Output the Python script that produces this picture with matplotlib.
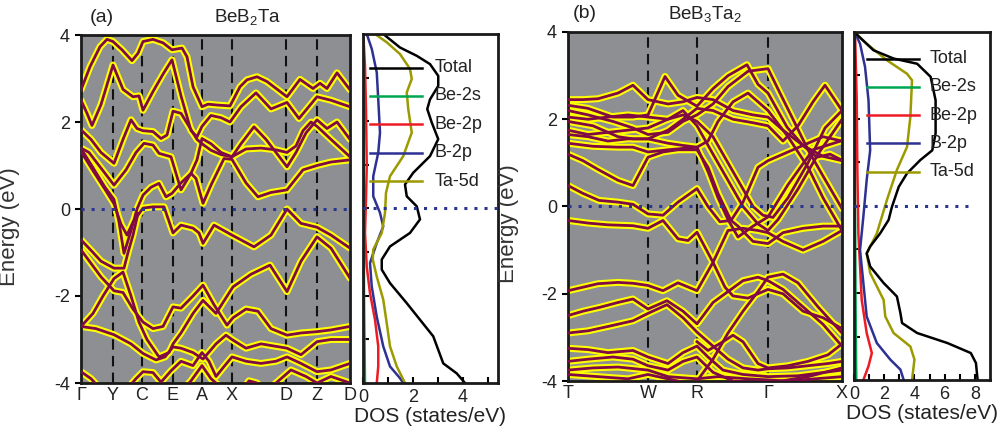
import matplotlib
matplotlib.use("Agg")
import matplotlib.pyplot as plt

plt.rcParams['font.family'] = ['Liberation Sans', 'DejaVu Sans']
plt.rcParams['mathtext.default'] = 'regular'
plt.rcParams['axes.unicode_minus'] = False

# ---------------- band structure (a) BeB2Ta ----------------
kpts_a = [0, 32, 61, 92, 121, 151, 205, 236, 269]
klabels_a = ['Γ', 'Y', 'C', 'E', 'A', 'X', 'D', 'Z', 'D']

bands_a = [
    [(0, 2.74), (9, 3.27), (19, 3.73), (26, 3.9), (32, 3.85), (41, 3.66), (51, 3.41), (57, 3.58), (62, 3.85),
     (72, 3.9), (82, 3.82), (91, 3.66), (101, 3.7), (106, 3.5), (112, 2.81), (121, 2.35), (127, 2.41), (136, 2.39),
     (149, 2.37), (159, 2.81), (166, 2.97), (176, 3.04), (186, 2.93), (206, 2.58), (219, 2.98), (232, 2.77),
     (239, 2.89), (246, 2.77), (256, 3.13), (269, 2.74)],
    [(0, 2.5), (6, 2.2), (11, 1.92), (20, 2.4), (32, 3.31), (42, 2.75), (52, 2.58), (58, 2.6), (62, 2.27),
     (72, 2.7), (82, 3.1), (91, 3.43), (100, 2.6), (110, 1.8), (116, 1.66), (121, 1.9), (130, 2.15), (140, 2.1),
     (149, 2.0), (160, 2.35), (175, 2.67), (190, 2.3), (206, 2.45), (218, 2.08), (236, 2.58), (250, 2.5),
     (269, 2.35)],
    [(0, 1.82), (10, 1.6), (20, 1.3), (33, 1.05), (42, 1.6), (50, 2.05), (56, 1.85), (62, 1.8), (72, 1.78),
     (80, 1.62), (86, 1.7), (92, 2.25), (100, 2.2), (108, 1.9), (116, 1.6), (121, 1.5), (130, 1.35), (140, 1.25),
     (151, 1.2), (160, 1.5), (173, 1.89), (185, 1.6), (195, 1.3), (206, 0.97), (215, 1.3), (225, 1.75),
     (236, 2.05), (246, 1.85), (256, 2.0), (269, 1.6)],
    [(0, 1.39), (12, 0.95), (24, 0.5), (33, 0.22), (38, -0.3), (43, -1.02), (50, -0.5), (56, 0.0), (62, 0.32),
     (70, 0.5), (78, 0.59), (85, 0.28), (91, 0.36), (100, 0.6), (110, 0.82), (116, 1.13), (121, 1.62),
     (130, 1.5), (140, 1.3), (151, 1.2), (165, 1.38), (180, 1.4), (195, 1.36), (206, 1.3), (215, 1.45),
     (222, 1.8), (230, 2.0), (236, 1.9), (250, 1.6), (269, 1.2)],
    [(0, 1.32), (12, 0.88), (24, 0.45), (33, 0.12), (40, -0.35), (46, -0.6), (52, -0.3), (62, 0.02), (72, 0.05),
     (83, 0.05), (92, -0.55), (100, -0.37), (112, -0.44), (118, -0.55), (122, -0.79), (133, -0.37),
     (151, -0.6), (173, -0.87), (190, -0.6), (206, 0.0), (220, -0.33), (236, -0.42), (250, -0.6), (269, -0.9)],
    [(0, 1.4), (8, 1.3), (18, 1.0), (33, 0.55), (45, 0.9), (55, 1.3), (63, 1.51), (72, 1.47), (78, 1.28),
     (90, 1.2), (100, 0.44), (110, 0.82), (115, 0.7), (122, 0.13), (130, 0.55), (143, 1.16), (151, 1.14),
     (165, 0.6), (177, 0.28), (190, 0.38), (206, 0.44), (222, 0.9), (236, 1.0), (250, 1.08), (269, 1.13)],
    [(0, -0.71), (10, -0.95), (20, -1.2), (33, -1.36), (43, -1.36), (47, -1.0), (52, -0.6), (57, -0.1)],
    [(0, -0.94), (10, -1.25), (20, -1.56), (33, -1.88), (42, -1.92), (52, -2.3), (62, -2.6), (72, -2.75),
     (82, -2.7), (92, -2.25), (100, -2.28), (112, -2.0), (122, -1.75), (133, -2.2), (146, -2.67), (152, -2.5),
     (165, -2.3), (177, -2.35), (190, -2.75), (206, -2.9), (220, -2.85), (236, -2.82), (250, -2.78), (269, -2.7)],
    [(0, -2.7), (12, -2.4), (22, -2.0), (33, -1.6), (42, -1.45), (50, -2.0), (58, -2.6), (66, -3.0), (78, -3.4),
     (88, -3.3), (92, -3.1), (100, -2.85), (112, -2.4), (122, -2.1), (135, -2.4), (152, -1.79), (170, -1.5),
     (189, -1.29), (206, -1.9), (220, -1.2), (236, -0.64), (250, -0.9), (269, -1.59)],
    [(0, -2.7), (15, -2.75), (33, -2.89), (50, -3.1), (62, -3.32), (75, -3.47), (84, -3.4), (92, -3.17),
     (100, -3.2), (112, -3.3), (122, -3.45), (135, -3.1), (145, -2.9), (151, -3.0), (165, -3.2), (180, -3.1),
     (206, -3.2), (220, -3.35), (236, -3.05), (250, -3.0), (269, -3.0)],
    [(0, -3.74), (10, -3.9), (20, -4.15), (40, -4.3), (55, -3.9), (62, -3.74), (72, -3.76), (80, -3.98),
     (90, -3.72), (100, -3.5), (112, -3.6), (121, -3.3), (128, -3.5), (135, -3.85), (142, -3.65), (151, -3.4),
     (165, -3.5), (180, -3.55), (195, -3.5), (206, -3.4), (220, -3.55), (236, -3.74), (250, -3.7), (269, -3.55)],
    [(100, -4.2), (110, -3.95), (121, -3.6), (130, -3.9), (140, -4.1), (160, -4.2), (168, -3.95), (176, -4.0),
     (185, -4.2), (200, -3.9), (210, -3.7), (225, -3.85), (236, -4.0), (250, -3.85), (269, -4.0)],
]

# ---------------- band structure (b) BeB3Ta2 ----------------
kpts_b = [0, 80, 129, 200, 274]
klabels_b = ['T', 'W', 'R', 'Γ', 'X']

bands_b = [
    [(0, 2.45), (15, 2.45), (30, 2.47), (50, 2.6), (65, 2.78), (80, 2.45), (100, 2.35), (115, 2.4), (129, 2.5),
     (145, 2.45), (165, 2.2), (185, 2.1), (200, 2.05), (215, 1.75), (235, 1.4), (255, 1.15), (274, 1.05)],
    [(0, 2.32), (20, 2.25), (45, 2.05), (65, 2.05), (80, 2.1), (97, 2.98), (110, 2.55), (129, 2.3), (145, 2.7),
     (160, 3.0), (179, 3.25), (190, 2.8), (200, 2.6), (219, 1.82), (235, 1.4), (249, 1.13), (262, 1.2),
     (274, 1.06)],
    [(0, 2.2), (20, 2.1), (45, 1.95), (65, 1.8), (80, 1.65), (100, 1.7), (115, 1.95), (129, 2.1), (145, 2.35),
     (160, 2.75), (180, 3.1), (200, 3.16), (212, 2.6), (225, 2.0), (240, 1.3), (255, 0.7), (274, -0.05)],
    [(0, 2.05), (20, 2.0), (40, 2.05), (60, 2.1), (80, 2.05), (100, 2.0), (115, 2.1), (129, 1.95), (145, 1.6),
     (160, 1.0), (175, 0.4), (185, 0.0), (195, -0.2), (205, -0.25), (220, 0.2), (240, 1.0), (257, 1.8),
     (274, 2.2)],
    [(0, 1.95), (25, 1.85), (50, 1.6), (65, 1.55), (80, 1.55), (100, 1.75), (115, 2.0), (129, 2.25), (145, 2.2),
     (165, 2.0), (185, 1.92), (200, 1.85), (215, 1.5), (230, 1.85), (245, 2.4), (257, 2.78), (274, 2.2)],
    [(0, 1.65), (20, 1.6), (40, 1.5), (60, 1.55), (80, 1.55), (100, 1.45), (115, 1.4), (129, 1.36), (140, 0.8),
     (150, 0.2), (160, -0.3), (170, -0.7), (185, -0.45), (200, -0.24), (220, 0.5), (245, 1.3), (274, 1.51)],
    [(0, 1.45), (25, 1.38), (50, 1.36), (65, 1.36), (80, 1.25), (100, 1.3), (129, 1.36), (140, 1.5), (150, 1.95),
     (165, 2.4), (180, 2.6), (200, 2.2), (220, 1.6), (240, 0.9), (255, 0.2), (274, -0.55)],
    [(0, 1.2), (15, 1.05), (30, 0.85), (50, 0.6), (65, 0.48), (80, 1.13), (95, 1.25), (110, 1.3), (129, 1.3),
     (140, 0.9), (150, 0.3), (163, -0.32), (175, 0.1), (190, 0.9), (200, 1.05), (215, 1.2), (235, 1.4),
     (255, 1.6), (274, 1.5)],
    [(0, 1.75), (20, 1.65), (40, 1.7), (60, 1.75), (80, 1.8), (100, 2.0), (115, 2.2), (129, 1.85), (145, 1.2),
     (160, 0.6), (175, 0.0), (190, -0.4), (200, -0.55), (210, -0.3), (230, 0.4), (250, 1.2), (274, 2.0)],
    [(0, 0.48), (15, 0.3), (31, 0.14), (50, 0.1), (65, 0.05), (80, -0.17), (95, -0.2), (110, 0.1), (129, 0.41),
     (140, 0.0), (152, -0.35), (163, -0.32), (170, -0.45), (185, -0.8), (200, -0.85), (215, -0.6), (235, -0.5),
     (255, -0.45), (274, -0.45)],
    [(0, -0.32), (20, -0.38), (40, -0.42), (65, -0.44), (80, -0.5), (95, -0.32), (110, -0.74), (120, -0.78),
     (129, -0.59), (145, -1.28), (157, -1.85), (165, -2.05), (180, -2.1), (195, -1.95), (200, -1.9),
     (215, -2.0), (235, -2.4), (255, -2.55), (274, -2.8)],
    [(0, -1.93), (15, -1.85), (30, -1.77), (50, -1.74), (65, -1.76), (80, -1.81), (95, -1.93), (110, -1.75),
     (129, -1.93), (145, -1.28), (160, -0.55), (175, -0.5), (190, -0.55), (200, -0.6), (215, -0.8),
     (235, -1.0), (255, -0.8), (274, -0.55)],
    [(0, -2.5), (15, -2.4), (32, -2.31), (50, -2.2), (65, -2.12), (80, -2.35), (99, -2.16), (115, -2.4),
     (129, -2.69), (145, -2.2), (160, -1.95), (175, -1.7), (190, -1.62), (200, -1.7), (215, -1.9), (235, -2.3),
     (255, -2.7), (274, -3.2)],
    [(129, -4.0), (145, -3.5), (160, -2.9), (175, -2.4), (190, -1.95), (200, -1.62), (215, -1.55), (230, -1.75),
     (250, -2.3), (274, -2.9)],
    [(129, -3.1), (140, -3.3), (155, -3.1), (165, -2.95), (175, -3.1), (190, -3.6), (200, -3.7), (220, -3.65),
     (240, -3.55), (260, -3.4), (274, -3.15)],
    [(0, -2.9), (20, -2.85), (40, -2.75), (65, -2.62), (80, -2.45), (99, -2.25), (115, -2.55), (129, -2.88),
     (145, -3.2), (160, -3.5), (175, -3.7), (190, -3.75), (200, -3.72), (220, -3.7), (240, -3.65), (260, -3.6),
     (274, -3.55)],
    [(0, -3.25), (20, -3.28), (40, -3.35), (65, -3.3), (80, -3.45), (100, -3.6), (115, -3.35), (129, -3.2),
     (140, -3.45), (155, -3.75), (175, -3.85), (200, -3.9), (230, -3.88), (274, -3.75)],
    [(0, -3.55), (20, -3.5), (45, -3.45), (65, -3.5), (80, -3.65), (100, -3.75), (115, -3.55), (129, -3.45),
     (145, -3.8), (165, -4.0), (200, -4.05), (240, -3.9), (274, -3.7)],
    [(0, -3.75), (25, -3.7), (50, -3.68), (80, -3.75), (100, -3.9), (129, -3.95), (150, -3.9), (180, -3.95),
     (220, -4.0), (274, -3.9)],
    [(0, -3.85), (30, -3.9), (60, -3.95), (80, -3.85), (100, -3.95), (129, -4.1)],
]

# ---------------- DOS (a) ----------------
dos_a = {
    'Total': ([4.0, 3.69, 3.5, 3.31, 3.04, 2.81, 2.5, 2.28, 1.97, 1.59, 1.2, 0.82, 0.55, 0.28, 0.05, -0.25, -0.56,
               -0.87, -1.17, -1.4, -1.71, -2.17, -2.55, -2.93, -3.55, -3.78, -4.0],
              [0.81, 1.48, 2.15, 2.68, 3.01, 3.01, 2.68, 2.57, 2.75, 3.01, 2.68, 2.01, 1.68, 1.75, 2.15, 2.28, 1.88,
               1.08, 0.75, 0.75, 1.08, 1.75, 2.28, 2.81, 3.21, 3.75, 4.08]),
    'Be-2s': ([4.0, 2.0, 0.0, -2.0, -3.0, -4.0], [0.02, 0.03, 0.03, 0.04, 0.06, 0.08]),
    'Be-2p': ([4.0, 3.27, 2.28, 0.97, 0.21, -0.56, -1.33, -1.94, -2.55, -3.16, -3.62, -4.0],
              [0.01, 0.08, 0.12, 0.15, 0.12, 0.08, 0.15, 0.28, 0.48, 0.61, 0.61, 0.55]),
    'B-2p': ([4.0, 3.66, 3.12, 2.5, 1.74, 1.28, 0.74, 0.28, -0.1, -0.41, -0.79, -1.25, -1.79, -2.48, -3.16, -3.62,
              -3.89, -4.0],
             [0.15, 0.35, 0.55, 0.61, 0.68, 0.61, 0.41, 0.41, 0.68, 0.81, 0.55, 0.28, 0.35, 0.55, 0.81, 1.08, 1.48,
              1.61]),
    'Ta-5d': ([4.0, 3.81, 3.54, 3.2, 2.97, 2.66, 2.28, 1.74, 1.2, 0.74, 0.36, -0.1, -0.56, -0.94, -1.17, -1.56,
               -2.09, -2.63, -3.16, -3.62, -4.0],
              [0.48, 0.95, 1.48, 1.88, 1.95, 1.75, 1.81, 1.95, 1.61, 1.08, 0.92, 0.88, 0.75, 0.41, 0.39, 0.55, 0.81,
               0.95, 1.08, 1.35, 1.68]),
}

# ---------------- DOS (b) ----------------
dos_b = {
    'Total': ([3.98, 3.58, 3.39, 3.27, 2.97, 2.43, 1.67, 1.28, 1.06, 0.75, 0.44, -0.02, -0.32, -0.63, -0.93, -1.09,
               -1.39, -1.77, -2.08, -2.46, -2.69, -2.92, -3.15, -3.38, -3.61, -4.0],
              [0.07, 1.29, 2.62, 4.18, 5.07, 5.4, 5.4, 5.18, 4.4, 3.51, 2.96, 2.51, 2.29, 1.73, 1.07, 0.84, 1.07,
               1.96, 2.84, 3.07, 3.18, 4.18, 6.18, 7.73, 8.07, 8.18]),
    'Be-2s': ([3.98, 2.0, 0.0, -2.0, -3.0, -4.0], [0.03, 0.05, 0.07, 0.1, 0.12, 0.15]),
    'Be-2p': ([3.98, 2.43, 0.9, -0.63, -2.16, -2.92, -3.38, -3.68, -4.0],
              [0.07, 0.18, 0.22, 0.29, 0.51, 0.84, 1.18, 0.96, 0.62]),
    'B-2p': ([3.98, 3.73, 3.2, 2.43, 1.28, 0.6, -0.24, -1.01, -1.77, -2.54, -3.15, -3.53, -3.76, -4.0],
             [0.07, 0.4, 0.73, 0.96, 1.07, 0.84, 0.62, 0.4, 0.62, 0.84, 1.51, 2.4, 3.07, 3.29]),
    'Ta-5d': ([3.98, 3.73, 3.35, 3.04, 2.89, 2.05, 1.36, 0.83, 0.14, -0.63, -1.09, -1.54, -2.16, -2.54, -2.92,
               -3.23, -3.53, -4.0],
              [0.07, 0.84, 2.18, 3.51, 3.84, 3.73, 3.51, 2.84, 2.18, 1.51, 0.84, 1.07, 1.96, 2.07, 2.62, 3.73, 4.0,
               3.84]),
}

dos_colors = {'Total': 'black', 'Be-2s': '#00a651', 'Be-2p': '#ed1c24', 'B-2p': '#2e3192', 'Ta-5d': '#9c9a00'}
legend_order = ['Total', 'Be-2s', 'Be-2p', 'B-2p', 'Ta-5d']
draw_order = ['Be-2s', 'Be-2p', 'B-2p', 'Ta-5d', 'Total']

GRAY = '#8e8f92'
PURPLE = '#7f0a45'
YELLOW = '#ffff00'
FERMI = '#2a3590'

fig = plt.figure(figsize=(10.07, 4.44), dpi=100)
W, H = 1007, 444


def box(x0, y0, x1, y1):
    return [x0 / W, 1 - y1 / H, (x1 - x0) / W, (y1 - y0) / H]


def band_panel(ax, bands, kpts, klabels):
    ax.set_facecolor(GRAY)
    for b in bands:
        ks = [p[0] for p in b]
        es = [p[1] for p in b]
        ax.plot(ks, es, color=YELLOW, lw=5.0, solid_capstyle='round', solid_joinstyle='round', zorder=2)
    for b in bands:
        ks = [p[0] for p in b]
        es = [p[1] for p in b]
        ax.plot(ks, es, color=PURPLE, lw=2.0, solid_joinstyle='round', zorder=3)
    for k in kpts[1:-1]:
        ax.axvline(k, color='#111111', lw=1.5, ls=(0, (5, 3)), zorder=1)
    ax.axhline(0, color=FERMI, lw=2.2, ls=(0, (1, 2.3)), zorder=4)
    ax.set_xlim(kpts[0], kpts[-1])
    ax.set_ylim(-4, 4)
    ax.set_xticks(kpts)
    ax.set_xticklabels(klabels)
    ax.set_yticks([-4, -2, 0, 2, 4])
    ax.tick_params(axis='x', length=0, labelsize=13, pad=3, labelcolor='#222222')
    ax.tick_params(axis='y', direction='out', length=4, width=1.5, labelsize=13, pad=4, labelcolor='#222222')
    for s in ax.spines.values():
        s.set_linewidth(2)
        s.set_color('#1a1a1a')
    ax.set_ylabel('Energy (eV)', fontsize=16, color='#333333')


def dos_panel(ax, dos, xmax, xlabels, leg_x0, leg_x1, leg_tx, leg_y, fermi_x):
    for name in draw_order:
        e, v = dos[name]
        ax.plot(v, e, color=dos_colors[name], lw=1.8, zorder=2)
    for name, y in zip(legend_order, leg_y):
        ax.plot([leg_x0, leg_x1], [y, y], color=dos_colors[name], lw=1.8, zorder=3)
        ax.text(leg_tx, y, name, fontsize=13, va='center', ha='left', color='#222222')
    ax.plot([0, fermi_x], [0, 0], color=FERMI, lw=2.2, ls=(0, (1, 2.3)), zorder=4)
    ax.set_xlim(0, xmax)
    ax.set_ylim(-4, 4)
    ax.set_yticks(range(-3, 4))
    ax.set_yticklabels([])
    ax.set_xticks(range(0, len(xlabels)))
    ax.set_xticklabels(xlabels)
    ax.tick_params(direction='in', length=4, width=1.5, labelsize=13, pad=4, labelcolor='#222222')
    for s in ax.spines.values():
        s.set_linewidth(2)
        s.set_color('#1a1a1a')
    ax.set_xlabel('DOS (states/eV)', fontsize=15, labelpad=1, color='#222222')


ax1 = fig.add_axes(box(81, 35, 350, 383))
band_panel(ax1, bands_a, kpts_a, klabels_a)
ax1.yaxis.set_label_coords(-0.225, 0.45)

ax2 = fig.add_axes(box(363, 34, 498, 383))
dos_panel(ax2, dos_a, 5.4, ['0', '', '2', '', '4', ''], 0.28, 2.35, 2.85,
          [3.23, 2.58, 1.93, 1.28, 0.63], 5.4)

ax3 = fig.add_axes(box(568, 32, 842, 381))
band_panel(ax3, bands_b, kpts_b, klabels_b)
ax3.yaxis.set_label_coords(-0.18, 0.45)

ax4 = fig.add_axes(box(854, 32, 990, 380))
dos_panel(ax4, dos_b, 9.0, ['0', '', '2', '', '4', '', '6', '', '8'], 0.84, 4.29, 5.0,
          [3.39, 2.74, 2.09, 1.44, 0.79], 7.8)

fig.text(90 / W, 1 - 17 / H, '(a)', fontsize=14, va='center', ha='left', color='#222222')
fig.text(248 / W, 1 - 17 / H, 'BeB$_2$Ta', fontsize=13.5, va='center', ha='center', color='#222222')
fig.text(573 / W, 1 - 14 / H, '(b)', fontsize=14, va='center', ha='left', color='#222222')
fig.text(705 / W, 1 - 14 / H, 'BeB$_3$Ta$_2$', fontsize=13.5, va='center', ha='center', color='#222222')

fig.savefig('out.png', dpi=100)
